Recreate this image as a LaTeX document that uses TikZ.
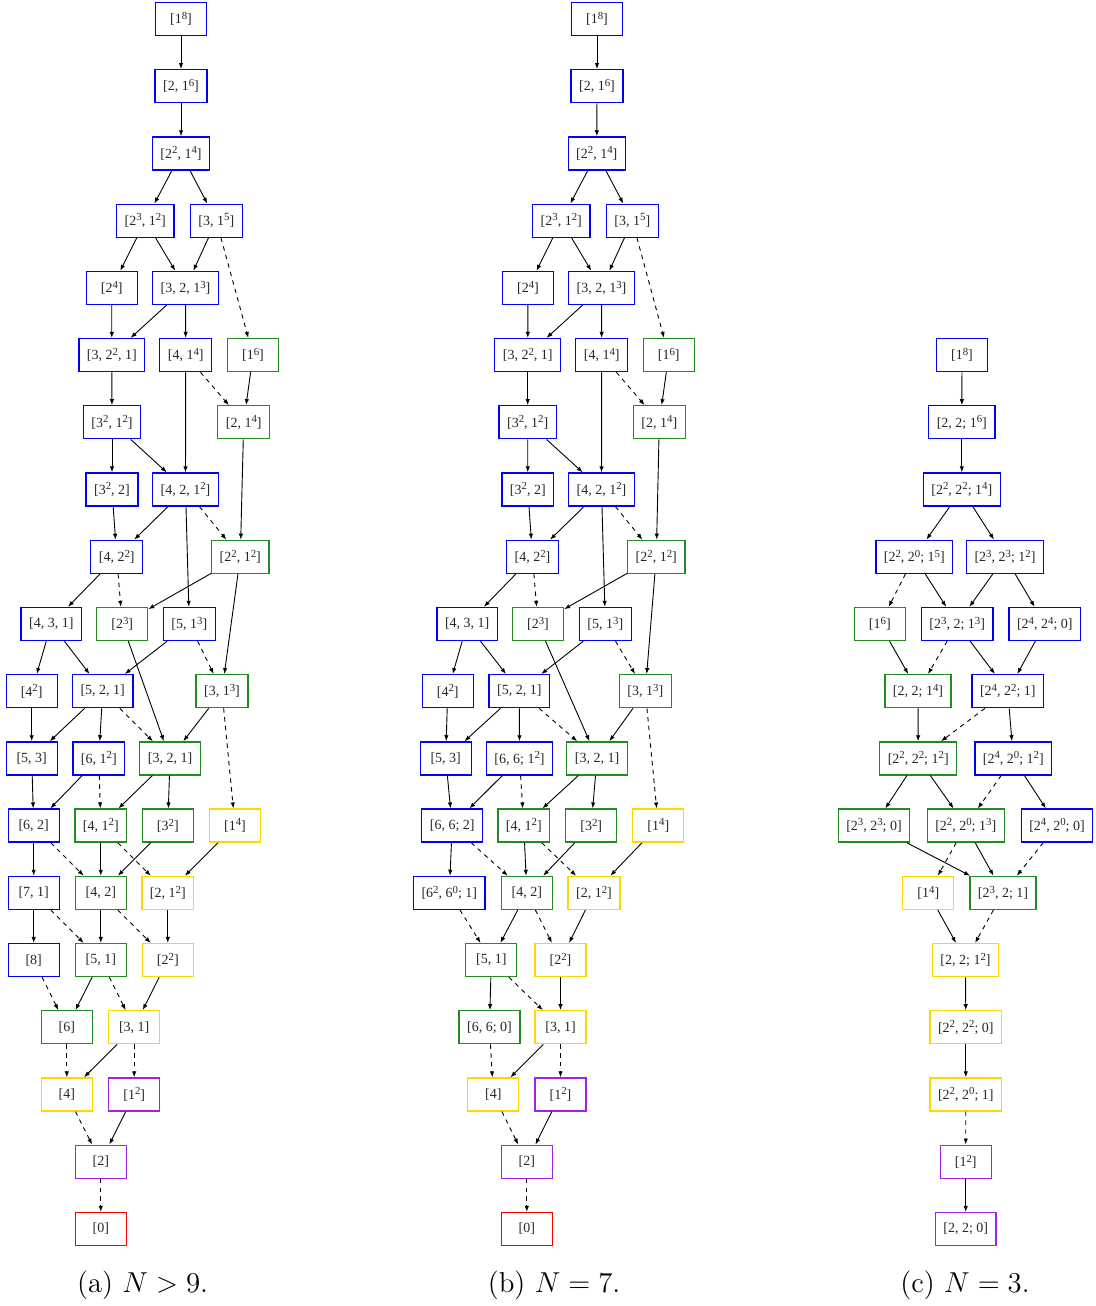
\documentclass[tikz,border=0pt]{standalone}
\usepackage{fontspec}
\newfontfamily\gvfont{Liberation Serif}
\usetikzlibrary{arrows.meta}
\definecolor{gvblue}{RGB}{0,0,255}
\definecolor{gvgreen}{RGB}{34,139,34}
\definecolor{gvgold}{RGB}{255,215,0}
\definecolor{gvpurple}{RGB}{160,32,240}
\definecolor{gvred}{RGB}{255,0,0}
\newcommand\pw[1]{\raisebox{0.32em}{\fontsize{5.4}{6}\selectfont #1}}
\begin{document}
\begin{tikzpicture}[x=0.5pt,y=-0.5pt,
  pn/.style={draw, rectangle, line width=0.65pt, minimum width=25.5pt, minimum height=16.5pt,
    inner xsep=4pt, inner ysep=0pt, font=\gvfont\fontsize{7}{8}\selectfont, text=black!85},
  bl/.style={pn, draw=gvblue}, gr/.style={pn, draw=gvgreen}, ye/.style={pn, draw=gvgold},
  pu/.style={pn, draw=gvpurple}, rd/.style={pn, draw=gvred},
  sa/.style={-{Latex[length=3pt,width=2.2pt]}, line width=0.45pt, black},
  da/.style={sa, dash pattern=on 2.2pt off 2.2pt},
  captext/.style={font=\Large}]
\useasboundingbox (0,0) rectangle (1096,1306);
% ---------------- panel (a)
\node[bl] (a00) at (181,19) {[1\pw{8}]};
\node[bl] (a10) at (181,86.2) {[2, 1\pw{6}]};
\node[bl] (a20) at (181,153.4) {[2\pw{2}, 1\pw{4}]};
\node[bl] (a30) at (145.3,220.7) {[2\pw{3}, 1\pw{2}]};
\node[bl] (a31) at (216.3,220.7) {[3, 1\pw{5}]};
\node[bl] (a40) at (111.7,287.9) {[2\pw{4}]};
\node[bl] (a41) at (185.5,287.9) {[3, 2, 1\pw{3}]};
\node[bl] (a50) at (111.8,355.1) {[3, 2\pw{2}, 1]};
\node[bl] (a51) at (185.7,355.1) {[4, 1\pw{4}]};
\node[gr] (a52) at (253,355.1) {[1\pw{6}]};
\node[bl] (a60) at (112,422.3) {[3\pw{2}, 1\pw{2}]};
\node[gr] (a61) at (243.7,422.3) {[2, 1\pw{4}]};
\node[bl] (a70) at (112,489.5) {[3\pw{2}, 2]};
\node[bl] (a71) at (185.5,489.5) {[4, 2, 1\pw{2}]};
\node[bl] (a80) at (116.7,556.8) {[4, 2\pw{2}]};
\node[gr] (a81) at (240.3,556.8) {[2\pw{2}, 1\pw{2}]};
\node[bl] (a90) at (51.3,624) {[4, 3, 1]};
\node[gr] (a91) at (122.2,624) {[2\pw{3}]};
\node[bl] (a92) at (189.3,624) {[5, 1\pw{3}]};
\node[bl] (aA0) at (31.7,691.2) {[4\pw{2}]};
\node[bl] (aA1) at (102.7,691.2) {[5, 2, 1]};
\node[gr] (aA2) at (222,691.2) {[3, 1\pw{3}]};
\node[bl] (aB0) at (31.7,758.4) {[5, 3]};
\node[bl] (aB1) at (98.8,758.4) {[6, 1\pw{2}]};
\node[gr] (aB2) at (170,758.4) {[3, 2, 1]};
\node[bl] (aC0) at (33.7,825.6) {[6, 2]};
\node[gr] (aC1) at (100.8,825.6) {[4, 1\pw{2}]};
\node[gr] (aC2) at (167.8,825.6) {[3\pw{2}]};
\node[ye] (aC3) at (235,825.6) {[1\pw{4}]};
\node[bl] (aD0) at (33.7,892.9) {[7, 1]};
\node[gr] (aD1) at (100.8,892.9) {[4, 2]};
\node[ye] (aD2) at (167.8,892.9) {[2, 1\pw{2}]};
\node[bl] (aE0) at (33.7,960.1) {[8]};
\node[gr] (aE1) at (100.8,960.1) {[5, 1]};
\node[ye] (aE2) at (167.8,960.1) {[2\pw{2}]};
\node[gr] (aF0) at (66.8,1027.3) {[6]};
\node[ye] (aF1) at (134.2,1027.3) {[3, 1]};
\node[ye] (aG0) at (66.8,1094.5) {[4]};
\node[pu] (aG1) at (134.2,1094.5) {[1\pw{2}]};
\node[pu] (aH0) at (100.8,1161.7) {[2]};
\node[rd] (aI0) at (100.8,1229) {[0]};
\foreach \s/\t in {a00/a10,a10/a20,a20/a30,a20/a31,a30/a40,a30/a41,a31/a41,a40/a50,a41/a50,a41/a51,
  a50/a60,a51/a71,a52/a61,a60/a70,a60/a71,a61/a81,a70/a80,a71/a80,a71/a92,a80/a90,a81/a91,a81/aA2,
  a90/aA0,a90/aA1,a91/aB2,a92/aA1,aA0/aB0,aA1/aB0,aA1/aB1,aA2/aB2,aB0/aC0,aB1/aC0,aB2/aC1,aB2/aC2,
  aC0/aD0,aC1/aD1,aC2/aD1,aC3/aD2,aD0/aE0,aD1/aE1,aD2/aE2,aE1/aF0,aE2/aF1,aF1/aG0,aG1/aH0}
  \draw[sa] (\s) -- (\t);
\foreach \s/\t in {a31/a52,a51/a61,a71/a81,a80/a91,a92/aA2,aA1/aB2,aA2/aC3,aB1/aC1,aC0/aD1,aC1/aD2,
  aD0/aE1,aD1/aE2,aE0/aF0,aE1/aF1,aF0/aG0,aF1/aG1,aG0/aH0,aH0/aI0}
  \draw[da] (\s) -- (\t);
% ---------------- panel (b)
\node[bl] (b00) at (597,19) {[1\pw{8}]};
\node[bl] (b10) at (597,86.2) {[2, 1\pw{6}]};
\node[bl] (b20) at (596.8,153.4) {[2\pw{2}, 1\pw{4}]};
\node[bl] (b30) at (561.3,220.7) {[2\pw{3}, 1\pw{2}]};
\node[bl] (b31) at (632.3,220.7) {[3, 1\pw{5}]};
\node[bl] (b40) at (528,287.9) {[2\pw{4}]};
\node[bl] (b41) at (601.5,287.9) {[3, 2, 1\pw{3}]};
\node[bl] (b50) at (527.7,355.1) {[3, 2\pw{2}, 1]};
\node[bl] (b51) at (601.7,355.1) {[4, 1\pw{4}]};
\node[gr] (b52) at (668.7,355.1) {[1\pw{6}]};
\node[bl] (b60) at (527.7,422.3) {[3\pw{2}, 1\pw{2}]};
\node[gr] (b61) at (659.3,422.3) {[2, 1\pw{4}]};
\node[bl] (b70) at (527.8,489.5) {[3\pw{2}, 2]};
\node[bl] (b71) at (601.5,489.5) {[4, 2, 1\pw{2}]};
\node[bl] (b80) at (532.5,556.8) {[4, 2\pw{2}]};
\node[gr] (b81) at (656.3,556.8) {[2\pw{2}, 1\pw{2}]};
\node[bl] (b90) at (467.2,624) {[4, 3, 1]};
\node[gr] (b91) at (538,624) {[2\pw{3}]};
\node[bl] (b92) at (605.3,624) {[5, 1\pw{3}]};
\node[bl] (bA0) at (447.7,691.2) {[4\pw{2}]};
\node[bl] (bA1) at (519.3,691.2) {[5, 2, 1]};
\node[gr] (bA2) at (645.3,691.2) {[3, 1\pw{3}]};
\node[bl] (bB0) at (445.7,758.4) {[5, 3]};
\node[bl] (bB1) at (519.5,758.4) {[6, 6; 1\pw{2}]};
\node[gr] (bB2) at (597,758.4) {[3, 2, 1]};
\node[bl] (bC0) at (452.2,825.6) {[6, 6; 2]};
\node[gr] (bC1) at (523.8,825.6) {[4, 1\pw{2}]};
\node[gr] (bC2) at (591.2,825.6) {[3\pw{2}]};
\node[ye] (bC3) at (658.3,825.6) {[1\pw{4}]};
\node[bl] (bD0) at (449.3,892.9) {[6\pw{2}, 6\pw{0}; 1]};
\node[gr] (bD1) at (526.8,892.9) {[4, 2]};
\node[ye] (bD2) at (594,892.9) {[2, 1\pw{2}]};
\node[gr] (bE1) at (491.3,960.1) {[5, 1]};
\node[ye] (bE2) at (560.5,960.1) {[2\pw{2}]};
\node[gr] (bF0) at (489.5,1027.3) {[6, 6; 0]};
\node[ye] (bF1) at (560.5,1027.3) {[3, 1]};
\node[ye] (bG0) at (493.3,1094.5) {[4]};
\node[pu] (bG1) at (560.5,1094.5) {[1\pw{2}]};
\node[pu] (bH0) at (526.8,1161.7) {[2]};
\node[rd] (bI0) at (526.8,1229) {[0]};
\foreach \s/\t in {b00/b10,b10/b20,b20/b30,b20/b31,b30/b40,b30/b41,b31/b41,b40/b50,b41/b50,b41/b51,
  b50/b60,b51/b71,b52/b61,b60/b70,b60/b71,b61/b81,b70/b80,b71/b80,b71/b92,b80/b90,b81/b91,b81/bA2,
  b90/bA0,b90/bA1,b91/bB2,b92/bA1,bA0/bB0,bA1/bB0,bA1/bB1,bA2/bB2,bB0/bC0,bB1/bC0,bB2/bC1,bB2/bC2,
  bC0/bD0,bC1/bD1,bC2/bD1,bC3/bD2,bD1/bE1,bD2/bE2,bE1/bF0,bE2/bF1,bF1/bG0,bG1/bH0}
  \draw[sa] (\s) -- (\t);
\foreach \s/\t in {b31/b52,b51/b61,b71/b81,b80/b91,b92/bA2,bA1/bB2,bA2/bC3,bB1/bC1,bC0/bD1,bC1/bD2,
  bD0/bE1,bD1/bE2,bE1/bF1,bF0/bG0,bF1/bG1,bG0/bH0,bH0/bI0}
  \draw[da] (\s) -- (\t);
% ---------------- panel (c)
\node[bl] (c50) at (962,355.1) {[1\pw{8}]};
\node[bl] (c60) at (961.8,422.3) {[2, 2; 1\pw{6}]};
\node[bl] (c70) at (961.8,489.5) {[2\pw{2}, 2\pw{2}; 1\pw{4}]};
\node[bl] (c80) at (914.3,556.8) {[2\pw{2}, 2\pw{0}; 1\pw{5}]};
\node[bl] (c81) at (1005,556.8) {[2\pw{3}, 2\pw{3}; 1\pw{2}]};
\node[gr] (c90) at (879.8,624) {[1\pw{6}]};
\node[bl] (c91) at (957.2,624) {[2\pw{3}, 2; 1\pw{3}]};
\node[bl] (c92) at (1044.8,624) {[2\pw{4}, 2\pw{4}; 0]};
\node[gr] (cA0) at (918,691.2) {[2, 2; 1\pw{4}]};
\node[bl] (cA1) at (1007.8,691.2) {[2\pw{4}, 2\pw{2}; 1]};
\node[gr] (cB0) at (918.2,758.4) {[2\pw{2}, 2\pw{2}; 1\pw{2}]};
\node[bl] (cB1) at (1013.3,758.4) {[2\pw{4}, 2\pw{0}; 1\pw{2}]};
\node[gr] (cC0) at (874,825.6) {[2\pw{3}, 2\pw{3}; 0]};
\node[gr] (cC1) at (965.7,825.6) {[2\pw{2}, 2\pw{0}; 1\pw{3}]};
\node[bl] (cC2) at (1057,825.6) {[2\pw{4}, 2\pw{0}; 0]};
\node[ye] (cD0) at (928.3,892.9) {[1\pw{4}]};
\node[gr] (cD1) at (1003,892.9) {[2\pw{3}, 2; 1]};
\node[ye] (cE0) at (965.5,960.1) {[2, 2; 1\pw{2}]};
\node[ye] (cF0) at (965.8,1027.3) {[2\pw{2}, 2\pw{2}; 0]};
\node[ye] (cG0) at (965.8,1094.5) {[2\pw{2}, 2\pw{0}; 1]};
\node[pu] (cH0) at (965.7,1161.7) {[1\pw{2}]};
\node[pu] (cI0) at (965.7,1229) {[2, 2; 0]};
\foreach \s/\t in {c50/c60,c60/c70,c70/c80,c70/c81,c80/c91,c81/c91,c81/c92,c90/cA0,c91/cA1,c92/cA1,
  cA0/cB0,cA1/cB1,cB0/cC0,cB0/cC1,cB1/cC2,cC0/cD1,cC1/cD1,cD0/cE0,cE0/cF0,cF0/cG0,cH0/cI0}
  \draw[sa] (\s) -- (\t);
\foreach \s/\t in {c80/c90,c91/cA0,cA1/cB0,cB1/cC1,cC1/cD0,cC2/cD1,cD1/cE0,cG0/cH0}
  \draw[da] (\s) -- (\t);
% ---------------- captions
\node[captext] (capa) at (142.5,1285) {(a) $N>9$.};
\node[captext] (capb) at (554,1285) {(b) $N=7$.};
\node[captext] (capc) at (965,1285) {(c) $N=3$.};
\end{tikzpicture}
\end{document}
